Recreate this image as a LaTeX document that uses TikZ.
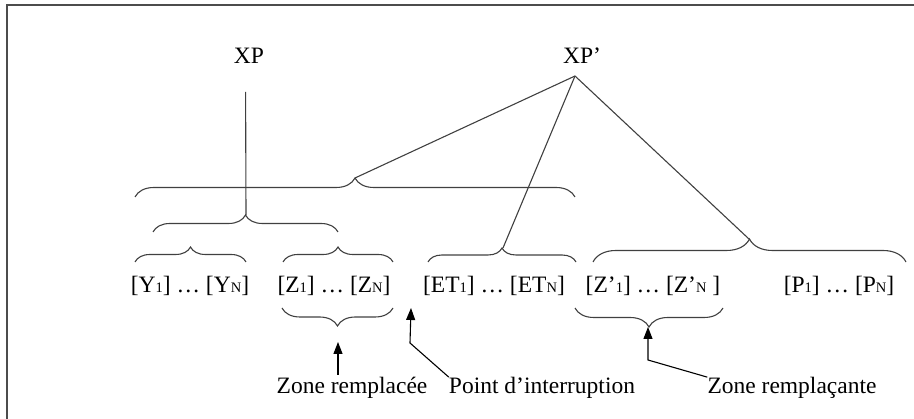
\documentclass[tikz,border=0pt]{standalone}
\usepackage{fontspec}
\setmainfont{Liberation Serif}
\usetikzlibrary{decorations.pathreplacing,arrows.meta}
\newcommand\lo[1]{{\fontsize{14.5}{14.5}\selectfont #1}}
\tikzset{
  brc/.style={decorate,decoration={brace,amplitude=#1},draw=black!75,line width=1.1pt},
  lbl/.style={inner sep=0pt,font=\fontsize{23.5}{28}\selectfont},
  arr/.style={-{Triangle[length=12pt,width=9pt]},line width=1.1pt},
  ln/.style={draw=black!75,line width=1.1pt}
}
\begin{document}
\begin{tikzpicture}[x=1pt,y=-1pt]
\path[use as bounding box] (0,0) rectangle (914,419);
\draw[black!70,line width=2pt] (7,419) -- (7,5) -- (914,5);
% labels
\node[lbl] (xp) at (249,56) {XP};
\node[lbl] (xpp) at (582,56) {XP’};
\node[lbl] (ys) at (190,286) {[Y\lo1] … [Y\lo N]};
\node[lbl] (zs) at (334,286) {[Z\lo1] … [Z\lo N]};
\node[lbl] (ets) at (494,286) {[ET\lo1] … [ET\lo N]};
\node[lbl] (zps) at (653,286) {[Z’\lo1] … [Z’\lo N ]};
\node[lbl] (ps) at (839,286) {[P\lo1] … [P\lo N]};
\node[lbl] (zr) at (352,388) {Zone remplacée};
\node[lbl] (pi) at (542,388) {Point d’interruption};
\node[lbl] (zrt) at (792,388) {Zone remplaçante};
% braces above
\coordinate (top) at (355,178);
\coordinate (mid) at (246,215);
\coordinate (et) at (503,248);
\coordinate (zp) at (749,239);
\coordinate (apex) at (575,76);
\draw[brc=19pt] (135,197) -- (575,197);
\draw[brc=17pt] (153,232) -- (338,232);
\draw[brc=15pt] (135,262) -- (246,262);
\draw[brc=15pt] (283,262) -- (393,262);
\draw[brc=14pt] (428,262) -- (576,262);
\draw[brc=23pt] (593,262) -- (906,262);
% braces below
\coordinate (ztip) at (338,326);
\coordinate (zptip) at (648,327);
\draw[brc=18pt] (393,308) -- (282,308);
\draw[brc=19pt] (723,308) -- (575,308);
% tree lines
\draw[ln] (245.6,92) -- (mid);
\draw[ln] (apex) -- (top);
\draw[ln] (apex) -- (et);
\draw[ln] (apex) -- (zp);
% arrows
\coordinate (zra) at (338,375);
\draw[arr] (zra) -- (338,342);
\coordinate (pib) at (410,343);
\draw[arr] (pi.north west) -- (pib) -- (411,308);
\coordinate (zrb) at (648,360);
\draw[arr] (zrt.north west) -- (zrb) -- (zptip);
\end{tikzpicture}
\end{document}
